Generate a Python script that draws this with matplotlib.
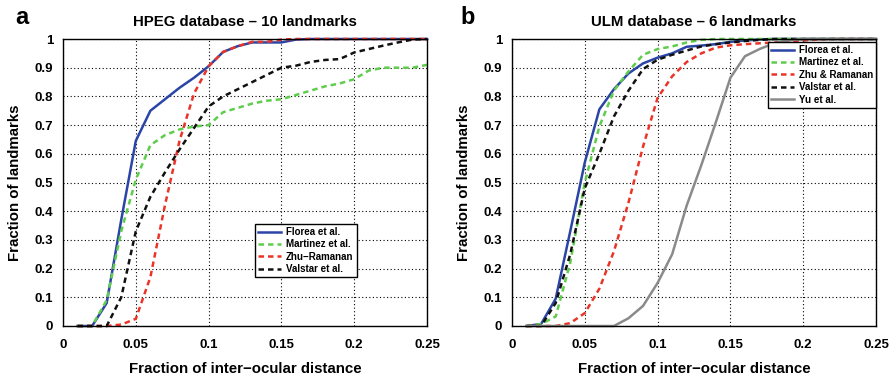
import numpy as np
import matplotlib
matplotlib.use("Agg")
import matplotlib.pyplot as plt

plt.rcParams['font.family'] = ['Liberation Sans', 'DejaVu Sans']
plt.rcParams['font.weight'] = 'bold'

x_grid = [0.01, 0.02, 0.03, 0.04, 0.05, 0.06, 0.07, 0.08, 0.09, 0.10,
          0.11, 0.12, 0.13, 0.14, 0.15, 0.16, 0.17, 0.18, 0.19, 0.20,
          0.21, 0.22, 0.23, 0.24, 0.25]

# Panel a: HPEG database - 10 landmarks
hpeg_florea = [0, 0, 0.08, 0.37, 0.645, 0.75, 0.79, 0.83, 0.865, 0.905,
               0.955, 0.975, 0.988, 0.988, 0.988, 0.998, 1, 1, 1, 1,
               1, 1, 1, 1, 1]
hpeg_martinez = [0, 0, 0.09, 0.33, 0.51, 0.63, 0.665, 0.685, 0.695, 0.70,
                 0.745, 0.76, 0.775, 0.785, 0.79, 0.805, 0.82, 0.835, 0.845, 0.86,
                 0.89, 0.90, 0.90, 0.90, 0.91]
hpeg_zhu = [0, 0, 0, 0.005, 0.025, 0.17, 0.42, 0.645, 0.81, 0.905,
            0.955, 0.975, 0.99, 0.99, 0.998, 1, 1, 1, 1, 1,
            1, 1, 1, 1, 1]
hpeg_valstar = [0, 0, 0, 0.10, 0.33, 0.45, 0.535, 0.615, 0.69, 0.765,
                0.80, 0.825, 0.85, 0.875, 0.90, 0.907, 0.92, 0.927, 0.93, 0.953,
                0.965, 0.977, 0.988, 0.998, 1.0]

# Panel b: ULM database - 6 landmarks
ulm_florea = [0, 0.007, 0.095, 0.33, 0.57, 0.755, 0.825, 0.88, 0.915, 0.935,
              0.95, 0.973, 0.977, 0.982, 0.99, 0.995, 0.998, 1, 1, 1,
              1, 1, 1, 1, 1]
ulm_martinez = [0, 0.007, 0.033, 0.22, 0.50, 0.695, 0.82, 0.887, 0.945, 0.965,
                0.974, 0.988, 0.997, 1, 1, 1, 1, 1, 1, 1,
                1, 1, 1, 1, 1]
ulm_zhu = [0, 0, 0, 0.01, 0.045, 0.13, 0.26, 0.43, 0.625, 0.795,
           0.87, 0.92, 0.95, 0.97, 0.978, 0.982, 0.985, 0.988, 0.99, 0.995,
           0.998, 1, 1, 1, 1]
ulm_valstar = [0, 0, 0.08, 0.25, 0.48, 0.60, 0.73, 0.82, 0.895, 0.928,
               0.945, 0.96, 0.974, 0.982, 0.988, 0.993, 0.997, 1, 1, 1,
               1, 1, 1, 1, 1]
ulm_yu = [0, 0, 0, 0, 0, 0, 0, 0.027, 0.07, 0.15,
          0.25, 0.42, 0.56, 0.71, 0.865, 0.94, 0.965, 0.985, 0.995, 1,
          1, 1, 1, 1, 1]

x_ticks = [0, 0.05, 0.1, 0.15, 0.2, 0.25]
x_ticklabels = ['0', '0.05', '0.1', '0.15', '0.2', '0.25']
y_ticks = [0, 0.1, 0.2, 0.3, 0.4, 0.5, 0.6, 0.7, 0.8, 0.9, 1.0]
y_ticklabels = ['0', '0.1', '0.2', '0.3', '0.4', '0.5', '0.6', '0.7', '0.8', '0.9', '1']

BLUE = '#2b45a6'
GREEN = '#5fcd4c'
RED = '#ea3428'
BLACK = '#111111'
GRAY = '#8a8a8a'
DASH = (0, (2.2, 1.6))

fig = plt.figure(figsize=(8.93, 3.77), dpi=100)
axa = fig.add_axes([63/893, 1-326/377, 364/893, 287/377])
axb = fig.add_axes([512/893, 1-326/377, 364/893, 287/377])

def style(ax, title):
    ax.set_xlim(0, 0.25)
    ax.set_ylim(0, 1)
    ax.set_xticks(x_ticks)
    ax.set_xticklabels(x_ticklabels)
    ax.set_yticks(y_ticks)
    ax.set_yticklabels(y_ticklabels)
    ax.tick_params(axis='x', length=0, labelsize=9.5, pad=9)
    ax.tick_params(axis='y', length=0, labelsize=9.5, pad=7)
    for lab in ax.get_xticklabels() + ax.get_yticklabels():
        lab.set_fontweight('bold')
    ax.grid(True, color='black', linestyle=(0, (1, 2.2)), linewidth=0.8)
    ax.set_axisbelow(True)
    for s in ax.spines.values():
        s.set_linewidth(1.0)
    ax.set_title(title, fontsize=10.8, fontweight='bold', pad=9)
    ax.set_xlabel('Fraction of inter\u2212ocular distance', fontsize=10.8,
                  fontweight='bold', labelpad=8)
    ax.set_ylabel('Fraction of landmarks', fontsize=10.8, fontweight='bold',
                  labelpad=9)

def legend(ax, **kw):
    leg = ax.legend(fontsize=7.0, frameon=True, fancybox=False, edgecolor='black',
                    handlelength=2.4, handletextpad=0.5, borderpad=0.3,
                    labelspacing=0.25, borderaxespad=0, framealpha=1, **kw)
    leg.get_frame().set_linewidth(1.0)
    for t in leg.get_texts():
        t.set_fontweight('bold')
    return leg

lw = 1.8
axa.plot(x_grid, hpeg_florea, color=BLUE, lw=lw, label='Florea et al.', clip_on=False)
axa.plot(x_grid, hpeg_martinez, color=GREEN, lw=lw, ls=DASH, label='Martinez et al.', clip_on=False)
axa.plot(x_grid, hpeg_zhu, color=RED, lw=lw, ls=DASH, label='Zhu\u2212Ramanan', clip_on=False)
axa.plot(x_grid, hpeg_valstar, color=BLACK, lw=lw, ls=DASH, label='Valstar et al.', clip_on=False)
style(axa, 'HPEG database \u2013 10 landmarks')
legend(axa, loc='upper left', bbox_to_anchor=((255-63)/364, (326-224)/287))

axb.plot(x_grid, ulm_florea, color=BLUE, lw=lw, label='Florea et al.', clip_on=False)
axb.plot(x_grid, ulm_martinez, color=GREEN, lw=lw, ls=DASH, label='Martinez et al.', clip_on=False)
axb.plot(x_grid, ulm_zhu, color=RED, lw=lw, ls=DASH, label='Zhu & Ramanan', clip_on=False)
axb.plot(x_grid, ulm_valstar, color=BLACK, lw=lw, ls=DASH, label='Valstar et al.', clip_on=False)
axb.plot(x_grid, ulm_yu, color=GRAY, lw=lw, label='Yu et al.', clip_on=False)
style(axb, 'ULM database \u2013 6 landmarks')
legend(axb, loc='upper right', bbox_to_anchor=(1.0, (326-42)/287))

fig.text(15/893, 1-17/377, 'a', fontsize=17, fontweight='bold', va='center', ha='left')
fig.text(460/893, 1-17/377, 'b', fontsize=17, fontweight='bold', va='center', ha='left')

fig.savefig('out.png', dpi=100)
